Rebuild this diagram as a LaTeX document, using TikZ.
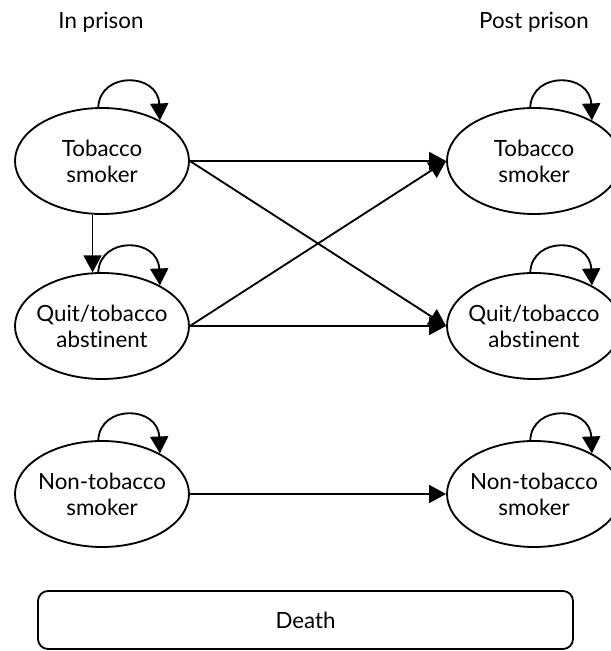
\documentclass[tikz,border=0pt]{standalone}
\usepackage{fontspec}
\setmainfont{Lato}[Ligatures=NoCommon]
\usepackage{tikz}
\usetikzlibrary{arrows.meta,shapes.geometric}
\tikzset{
  state/.style={draw,ellipse,line width=1.05pt,minimum width=3.48cm,minimum height=2.12cm,inner sep=-0.6cm,align=center,font=\fontsize{12.7}{14.8}\selectfont},
  trans/.style={line width=1.05pt,-{Triangle[length=0.34cm,width=0.36cm]}},
  title/.style={font=\fontsize{12.7}{14.8}\selectfont}
}

\begin{document}
\begin{tikzpicture}
\useasboundingbox (0,0) rectangle (12.2,13.02);
\node[title] (inp) at (2.02,12.58) {In prison};
\node[title] (postp) at (10.68,12.58) {Post prison};
\node[state] (tl) at (2.04,9.8) {Tobacco\\smoker};
\node[state] (ql) at (2.04,6.5) {Quit/tobacco\\abstinent};
\node[state] (nl) at (2.04,3.14) {Non-tobacco\\smoker};
\node[state] (tr) at (10.68,9.8) {Tobacco\\smoker};
\node[state] (qr) at (10.68,6.5) {Quit/tobacco\\abstinent};
\node[state] (nr) at (10.68,3.14) {Non-tobacco\\smoker};
\node[draw,line width=1.05pt,rounded corners=0.2cm,minimum width=10.7cm,minimum height=1.16cm,title] (death) at (6.11,0.62) {Death};
% self loops
\draw[trans] (tl.94) .. controls +(0.04,0.72) and +(-0.04,0.96) .. (tl.35);
\draw[trans] (ql.94) .. controls +(0.04,0.72) and +(-0.04,0.96) .. (ql.35);
\draw[trans] (nl.94) .. controls +(0.04,0.72) and +(-0.04,0.96) .. (nl.35);
\draw[trans] (tr.94) .. controls +(0.04,0.72) and +(-0.04,0.96) .. (tr.35);
\draw[trans] (qr.94) .. controls +(0.04,0.72) and +(-0.04,0.96) .. (qr.35);
\draw[trans] (nr.94) .. controls +(0.04,0.72) and +(-0.04,0.96) .. (nr.35);
% transitions
\draw[trans] (tl.260) -- (ql.100);
\draw[trans] (tl.east) -- (tr.west);
\draw[trans] (tl.east) -- (qr.west);
\draw[trans] (ql.east) -- (tr.west);
\draw[trans] (ql.east) -- (qr.west);
\draw[trans] (nl.east) -- (nr.west);
\end{tikzpicture}
\end{document}
